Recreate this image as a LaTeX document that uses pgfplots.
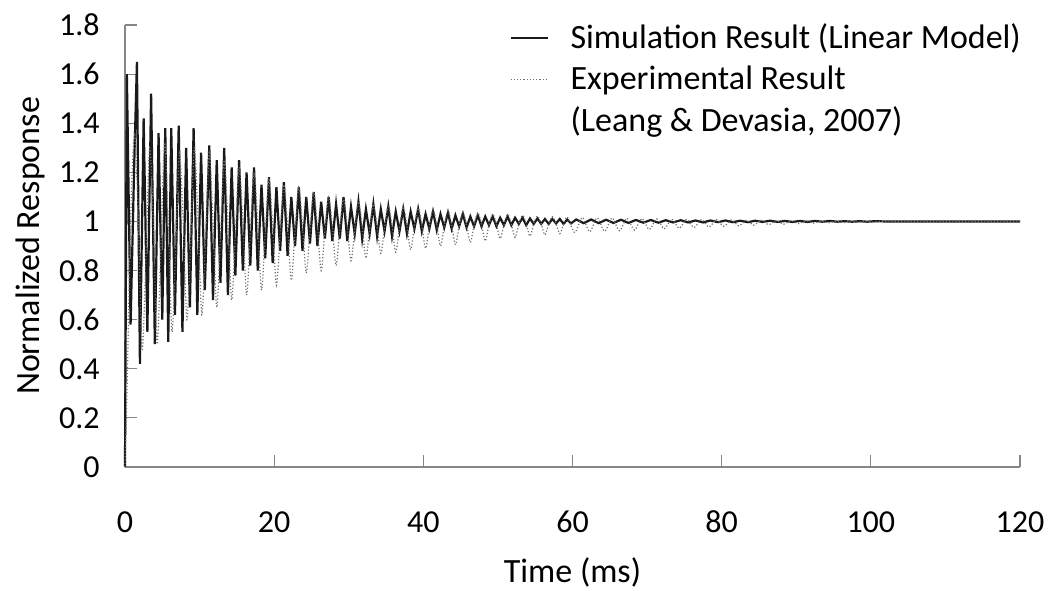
\documentclass[border=0pt]{standalone}
\usepackage{pgfplots}
\pgfplotsset{compat=1.18}
\usepackage{fontspec}
\setmainfont{Carlito}
\definecolor{axgray}{HTML}{868686}
\definecolor{simcol}{HTML}{1A1A1A}
\definecolor{expcol}{HTML}{707070}
\begin{document}
\begin{tikzpicture}
\useasboundingbox (-62.5pt,-61.5pt) rectangle (462pt,233.5pt);
\begin{axis}[
  scale only axis,
  width=447.5pt, height=221pt,
  xmin=0, xmax=120, ymin=0, ymax=1.8,
  xtick={0,20,...,120},
  ytick={0,0.2,0.4,0.6,0.8,1,1.2,1.4,1.6,1.8},
  yticklabels={0,0.2,0.4,0.6,0.8,1,1.2,1.4,1.6,1.8},
  axis x line*=bottom, axis y line*=left,
  axis line style={axgray, line width=0.6pt, -},
  tick style={axgray, line width=0.6pt},
  tick align=inside,
  major tick length=6pt,
  tick label style={font=\fontsize{16}{19}\selectfont},
  /pgf/number format/assume math mode=true,
  xticklabel style={anchor=base, inner sep=0pt, yshift=-32.5pt},
  yticklabel style={anchor=east, inner sep=0pt, xshift=-12.5pt},
  label style={font=\fontsize{17}{20}\selectfont},
  xlabel={Time (ms)}, ylabel={Normalized Response},
  xlabel style={at={(axis description cs:0.5,-0.2376)}, anchor=center},
  ylabel style={at={(axis description cs:-0.1061,0.5)}, anchor=center, rotate=0},
  legend style={draw=none, fill=none, at={(1.006,1.012)}, anchor=north east,
    font=\fontsize{17}{20}\selectfont, row sep=3pt, inner sep=0pt,
    /tikz/every odd column/.style={column sep=9pt}},
  legend cell align=left,
  legend image code/.code={\draw[#1] (0pt,0pt) -- (18.5pt,0pt);},
  clip=false,
]
\addplot[simcol, line width=1.1pt] coordinates {
(0,0) (0.25,1.60) (0.75,0.58) (1.25,1.25) (1.6,1.65) (2.0,0.42) (2.5,1.42) (3.0,0.55)
(3.5,1.52) (4.0,0.5) (4.5,1.36) (5.0,0.6) (5.4,1.38) (5.8,0.51) (6.2,1.38) (6.7,0.62)
(7.2,1.39) (7.7,0.55) (8.2,1.3) (8.7,0.65) (9.2,1.38) (9.7,0.62) (10.2,1.28) (10.7,0.72)
(11.3,1.31) (11.8,0.68) (12.3,1.25) (12.8,0.75) (13.3,1.3) (13.8,0.7) (14.3,1.22) (14.8,0.78)
(15.3,1.25) (15.8,0.8) (16.3,1.2) (16.8,0.82) (17.3,1.22) (17.8,0.8) (18.3,1.15) (18.8,0.85)
(19.3,1.18) (19.8,0.83) (20.3,1.14) (20.8,0.88) (21.3,1.16) (21.8,0.86) (22.3,1.1) (22.8,0.9)
(23.3,1.14) (23.8,0.88) (24.3,1.1) (24.8,0.91) (25.3,1.12) (25.8,0.9) (26.3,1.08) (26.8,0.93)
(27.3,1.1) (27.8,0.92) (28.3,1.07) (28.8,0.93) (29.3,1.1) (29.8,0.92) (30.3,1.06) (30.8,0.95)
(31.3,1.08) (31.8,0.93) (32.3,1.05) (32.8,0.95) (33.3,1.07) (33.8,0.94) (34.3,1.05) (34.8,0.96)
(35.3,1.06) (35.8,0.94) (36.3,1.04) (36.8,0.96) (37.3,1.05) (37.8,0.95) (38.3,1.04) (38.8,0.97)
(39.3,1.05) (39.8,0.96) (40.3,1.03) (40.8,0.97) (41.3,1.04) (41.8,0.965) (42.3,1.03) (42.8,0.975)
(43.3,1.035) (43.8,0.97) (44.3,1.025) (44.8,0.98) (45.3,1.03) (45.8,0.975) (46.3,1.02) (46.8,0.98)
(47.3,1.025) (47.8,0.98) (48.3,1.02) (48.8,0.985) (49.3,1.02) (49.8,0.98) (50.3,1.015) (50.8,0.985)
(51.3,1.02) (51.8,0.985) (52.3,1.015) (52.8,0.99) (53.3,1.015) (53.8,0.985) (54.3,1.012) (54.8,0.99)
(55.3,1.012) (55.8,0.99) (56.3,1.01) (56.8,0.99) (57.3,1.01) (57.8,0.992) (58.3,1.01) (58.8,0.99)
(59.3,1.008) (59.8,0.992) (60.5,1.008) (61.5,0.993) (62.5,1.008) (63.5,0.993) (64.5,1.007) (65.5,0.994)
(66.5,1.007) (67.5,0.994) (68.5,1.006) (69.5,0.995) (70.5,1.006) (71.5,0.995) (72.5,1.005) (73.5,0.996)
(74.5,1.005) (75.5,0.996) (76.5,1.004) (77.5,0.996) (78.5,1.004) (79.5,0.997) (80.5,1.004) (81.5,0.997)
(82.5,1.003) (83.5,0.997) (84.5,1.003) (85.5,0.998) (86.5,1.003) (87.5,0.998) (88.5,1.002) (89.5,0.998)
(90.5,1.002) (91.5,0.998) (92.5,1.002) (93.5,0.999) (94.5,1.002) (95.5,0.999) (96.5,1.001) (97.5,0.999)
(98.5,1.001) (99.5,0.999) (100.5,1.001) (102,1.0) (110,1.0) (120,1.0)
};
\addlegendentry{Simulation Result (Linear Model)}
\addplot[expcol, line width=0.6pt, densely dotted, smooth] coordinates {
(0,0) (0.3,0.35) (0.6,0.8) (0.9,1.15) (1.3,1.36) (1.8,1.0) (2.3,0.48) (2.8,0.85)
(3.3,1.3) (3.8,1.0) (4.3,0.5) (4.8,0.88) (5.3,1.32) (5.8,1.0) (6.3,0.55) (6.8,0.9)
(7.3,1.28) (7.8,1.0) (8.3,0.6) (8.8,0.92) (9.3,1.3) (9.8,1.0) (10.3,0.62) (10.8,0.93)
(11.3,1.28) (11.8,1.0) (12.3,0.65) (12.8,0.94) (13.3,1.25) (13.8,1.0) (14.3,0.68) (14.8,0.95)
(15.3,1.22) (15.8,1.0) (16.3,0.7) (16.8,0.95) (17.3,1.2) (17.8,0.99) (18.3,0.72) (18.8,0.95)
(19.3,1.17) (19.8,0.98) (20.3,0.74) (20.8,0.95) (21.3,1.15) (21.8,0.98) (22.3,0.76) (22.8,0.96)
(23.3,1.14) (23.8,0.98) (24.3,0.79) (24.8,0.96) (25.3,1.12) (25.8,0.98) (26.3,0.8) (26.8,0.96)
(27.3,1.1) (27.8,0.98) (28.3,0.82) (28.8,0.97) (29.3,1.09) (29.8,0.98) (30.3,0.84) (30.8,0.97)
(31.3,1.08) (31.8,0.98) (32.3,0.85) (32.8,0.97) (33.3,1.07) (33.8,0.98) (34.3,0.87) (34.8,0.975)
(35.3,1.065) (35.8,0.985) (36.3,0.875) (36.8,0.975) (37.3,1.06) (37.8,0.985) (38.3,0.885) (38.8,0.98)
(39.3,1.055) (39.8,0.985) (40.3,0.89) (40.8,0.98) (41.3,1.05) (41.8,0.985) (42.3,0.9) (42.8,0.98)
(43.3,1.045) (43.8,0.985) (44.3,0.905) (44.8,0.98) (45.3,1.04) (45.8,0.985) (46.3,0.915) (46.8,0.985)
(47.3,1.035) (47.8,0.99) (48.3,0.92) (48.8,0.985) (49.3,1.03) (49.8,0.99) (50.3,0.93) (50.8,0.985)
(51.3,1.03) (51.8,0.99) (52.3,0.935) (52.8,0.99) (53.3,1.025) (53.8,0.99) (54.3,0.94) (54.8,0.99)
(55.3,1.022) (55.8,0.99) (56.3,0.945) (56.8,0.99) (57.3,1.02) (57.8,0.99) (58.3,0.95) (58.8,0.99)
(59.3,1.018) (60.3,0.955) (61.3,1.016) (62.3,0.958) (63.3,1.015) (64.3,0.96) (65.3,1.014) (66.3,0.962)
(67.3,1.013) (68.3,0.965) (69.3,1.012) (70.3,0.967) (71.3,1.011) (72.3,0.97) (73.3,1.01) (74.3,0.972)
(75.3,1.009) (76.3,0.975) (77.3,1.008) (78.3,0.977) (79.3,1.007) (80.3,0.98) (81.3,1.006) (82.3,0.982)
(83.3,1.005) (84.3,0.985) (85.3,1.005) (86.3,0.987) (87.3,1.004) (88.3,0.989) (89.3,1.003) (90.3,0.991)
(91.3,1.003) (92.3,0.993) (93.3,1.002) (94.3,0.994) (95.3,1.002) (96.3,0.995) (97.3,1.001) (98.3,0.996)
(99.3,1.001) (100.3,0.997) (101.3,1.001) (102.3,0.998) (103.3,1.0) (104.3,0.999) (106,1.0) (120,1.0)
};
\addlegendentry{Experimental Result}
\addlegendimage{empty legend}
\addlegendentry{(Leang \& Devasia, 2007)}
\end{axis}
\end{tikzpicture}
\end{document}
